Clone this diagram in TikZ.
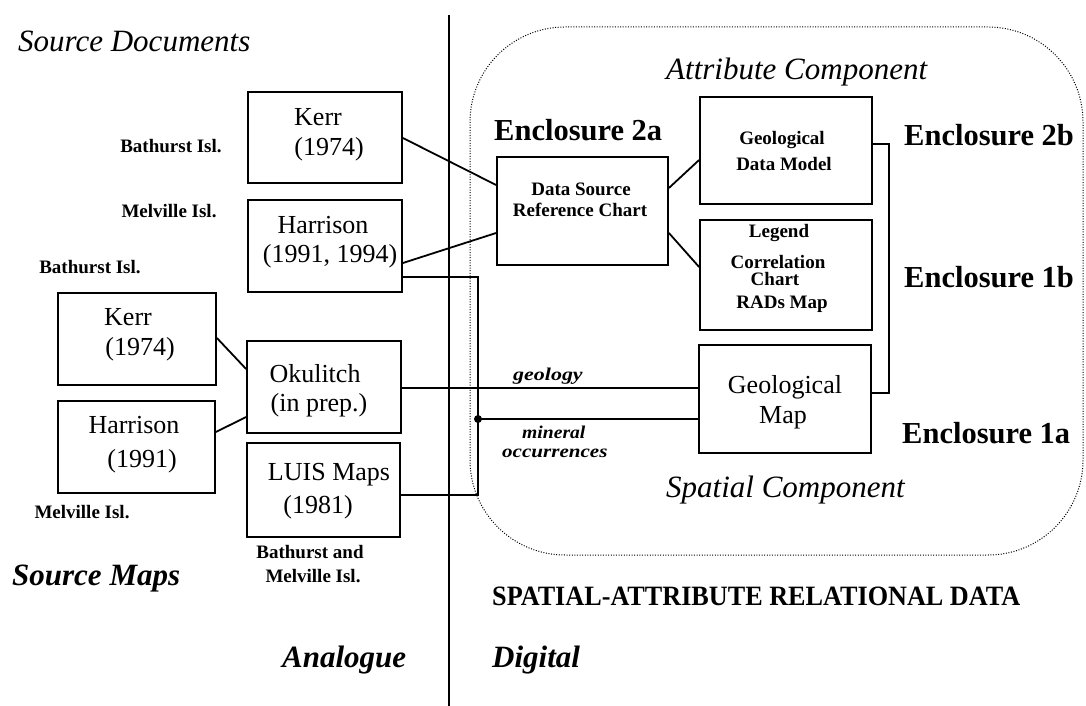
\documentclass[tikz,border=0pt]{standalone}
\usepackage{fontspec}
\setmainfont{Liberation Serif}
\usepackage{graphicx}
\newcommand{\fsz}[1]{\fontsize{#1}{#1}\selectfont}
\begin{document}
\begin{tikzpicture}[x=1pt,y=-1pt,
  box/.style={draw,line width=1.8pt,inner sep=0pt},
  wire/.style={line width=1.8pt},
  boxtext/.style={inner sep=0pt,anchor=base,font=\fsz{26}},
  smalltext/.style={inner sep=0pt,anchor=base,font=\fsz{19}\bfseries},
  heading/.style={inner sep=0pt,anchor=base west,font=\fsz{31}\itshape},
  headingbf/.style={inner sep=0pt,anchor=base west,font=\fsz{31}\bfseries\itshape},
  encl/.style={inner sep=0pt,anchor=base west,font=\fsz{30.5}\bfseries},
  flowlabel/.style={inner sep=0pt,anchor=base west,font=\fsz{18}\bfseries\itshape},
]
\useasboundingbox (0,0) rectangle (1086,706);

% analogue / digital divider
\coordinate (divtop) at (449,15);
\coordinate (divbot) at (449,706);
\draw[line width=2.6pt] (divtop) -- (divbot);

% dotted outline of the relational data set
\draw[line width=1pt,dash pattern=on 1pt off 1.6pt,rounded corners=95pt]
  (470,27) rectangle (1083,555);

% ---- source documents ----
\node[box,minimum width=154pt,minimum height=91pt] (kerrA) at (325,137.5) {};
\node[boxtext] (kerrAa) at (318,125) {Kerr};
\node[boxtext] (kerrAb) at (329,155) {(1974)};
\node[box,minimum width=154pt,minimum height=92pt] (harA) at (325,246) {};
\node[boxtext] (harAa) at (323,233) {Harrison};
\node[boxtext] (harAb) at (330,262) {(1991, 1994)};
\node[smalltext] (bathA) at (171,153) {Bathurst Isl.};
\node[smalltext] (melA) at (169,217) {Melville Isl.};

% ---- source maps ----
\node[box,minimum width=158pt,minimum height=92pt] (kerrB) at (137,339) {};
\node[boxtext] (kerrBa) at (128,325) {Kerr};
\node[boxtext] (kerrBb) at (140,355) {(1974)};
\node[box,minimum width=157pt,minimum height=92pt] (harB) at (136.5,447) {};
\node[boxtext] (harBa) at (134,433) {Harrison};
\node[boxtext] (harBb) at (142,467) {(1991)};
\node[box,minimum width=154pt,minimum height=92pt] (okul) at (324,387) {};
\node[boxtext] (okula) at (315,382) {Okulitch};
\node[boxtext] (okulb) at (319,411) {(in prep.)};
\node[box,minimum width=153pt,minimum height=94pt] (luis) at (323.5,490) {};
\node[boxtext] (luisa) at (329,480) {LUIS Maps};
\node[boxtext] (luisb) at (318,513) {(1981)};
\node[smalltext] (bathB) at (90,273) {Bathurst Isl.};
\node[smalltext] (melB) at (82,518) {Melville Isl.};
\node[smalltext] (bmA) at (310,558) {Bathurst and};
\node[smalltext] (bmB) at (313,582) {Melville Isl.};

% ---- attribute component ----
\node[box,minimum width=171pt,minimum height=108pt] (ds) at (582.5,211) {};
\node[smalltext] (dsa) at (581,195) {Data Source};
\node[smalltext] (dsb) at (580,216) {Reference Chart};
\node[box,minimum width=172pt,minimum height=107pt] (gdm) at (786,150.5) {};
\node[smalltext] (gdma) at (782,144) {Geological};
\node[smalltext] (gdmb) at (784,170) {Data Model};
\node[box,minimum width=172pt,minimum height=110pt] (leg) at (786,275) {};
\node[smalltext] (lega) at (779,237) {Legend};
\node[smalltext] (legb) at (778,268) {Correlation};
\node[smalltext] (legc) at (775,285) {Chart};
\node[smalltext] (legd) at (782,308) {RADs Map};

% ---- spatial component ----
\node[box,minimum width=172pt,minimum height=108pt] (gmap) at (785,399) {};
\node[boxtext] (gmapa) at (785,393) {Geological};
\node[boxtext] (gmapb) at (783,423) {Map};

% ---- connectors ----
\draw[wire] (kerrA.east |- 0,138) -- (ds.west |- 0,185);
\draw[wire] (harA.east |- 0,263) -- (ds.west |- 0,233);
\draw[wire] (ds.east |- 0,188) -- (gdm.west |- 0,160);
\draw[wire] (ds.east |- 0,233) -- (leg.west |- 0,267);
\draw[wire] (kerrB.east |- 0,338) -- (okul.west |- 0,369);
\draw[wire] (harB.east |- 0,432) -- (okul.west |- 0,417);
\draw[wire] (okul.east |- 0,388) -- (gmap.west |- 0,388);

\coordinate (mtop) at (478,277);
\coordinate (mjoin) at (478,419);
\coordinate (mbot) at (478,495);
\draw[wire] (harA.east |- mtop) -- (mtop) -- (mbot) -- (luis.east |- mbot);
\draw[wire] (mjoin) -- (gmap.west |- mjoin);
\fill (mjoin) circle (4pt);

\coordinate (brtop) at (889,144);
\coordinate (brbot) at (889,393);
\draw[line width=1.6pt] (gdm.east |- brtop) -- (brtop) -- (brbot) -- (gmap.east |- brbot);

% ---- labels ----
\node[flowlabel] (geol) at (513,380) {\scalebox{1.22}[1]{geology}};
\node[flowlabel] (minA) at (522,438) {\scalebox{1.09}[1]{mineral}};
\node[flowlabel] (minB) at (502,457) {\scalebox{1.17}[1]{occurrences}};

\node[heading] (srcdoc) at (18,52) {Source Documents};
\node[headingbf] (srcmap) at (12,585) {Source Maps};
\node[headingbf] (analog) at (282,667) {Analogue};
\node[headingbf] (digit) at (492,667) {Digital};
\node[heading] (attr) at (666,80) {Attribute Component};
\node[heading] (spat) at (666,497) {Spatial Component};

\node[encl] (e2a) at (494,140) {Enclosure 2a};
\node[encl] (e2b) at (904,145) {Enclosure 2b};
\node[encl] (e1b) at (904,287) {Enclosure 1b};
\node[encl] (e1a) at (902,443) {Enclosure 1a};

\node[inner sep=0pt,anchor=base west,font=\fsz{28}\bfseries] (sard) at (492,605)
  {\scalebox{0.935}[1]{SPATIAL-ATTRIBUTE RELATIONAL DATA}};
\end{tikzpicture}
\end{document}
